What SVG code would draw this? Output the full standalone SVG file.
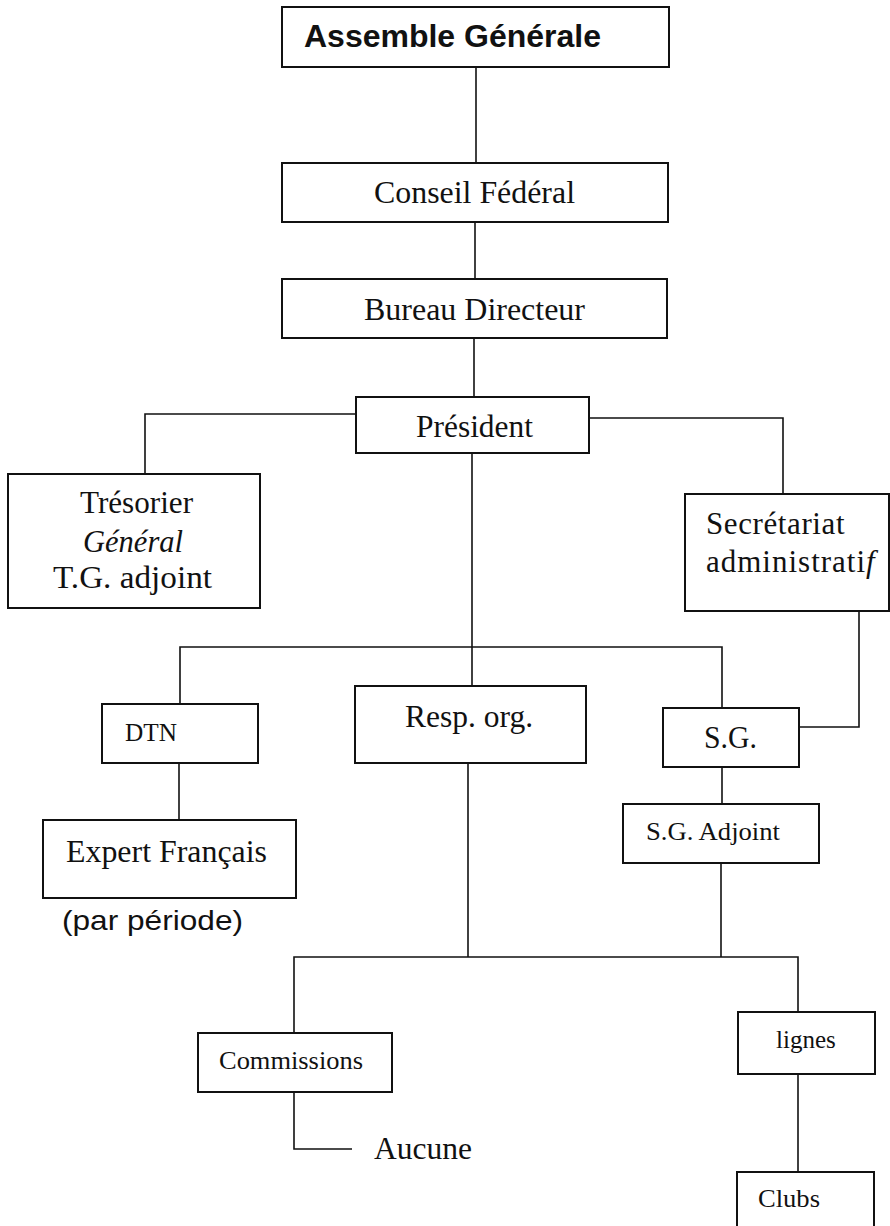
<svg xmlns="http://www.w3.org/2000/svg" width="890" height="1226" viewBox="0 0 890 1226">
<style>
.box{fill:#fff;stroke:#111;stroke-width:2}
.con{fill:none;stroke:#111;stroke-width:1.6}
.t{font-family:"Liberation Serif","Times New Roman",serif;font-size:31px;fill:#111}
.s{font-family:"Liberation Serif","Times New Roman",serif;font-size:25px;fill:#111}
.sans{font-family:"Liberation Sans",Arial,sans-serif;fill:#111}
</style>
<rect width="890" height="1226" fill="#fff"/>
<g id="connectors">
<path class="con" d="M476 67V163"/>
<path class="con" d="M475 222V279"/>
<path class="con" d="M474 338V397"/>
<path class="con" d="M356 414H145V474"/>
<path class="con" d="M589 418H783V494"/>
<path class="con" d="M472 453V686"/>
<path class="con" d="M180 704V647H722V708"/>
<path class="con" d="M859 611V727H800"/>
<path class="con" d="M179 763V820"/>
<path class="con" d="M722 767V804"/>
<path class="con" d="M721 863V957"/>
<path class="con" d="M468 763V957"/>
<path class="con" d="M294 1033V957H798V1012"/>
<path class="con" d="M294 1092V1149H352"/>
<path class="con" d="M798 1074V1172"/>
</g>
<g id="assemblee">
<rect class="box" x="282" y="7" width="387" height="60"/>
<text class="sans" x="304" y="47" font-size="32" font-weight="bold" textLength="297" lengthAdjust="spacingAndGlyphs">Assemble Générale</text>
</g>
<g id="conseil">
<rect class="box" x="282" y="163" width="386" height="59"/>
<text class="t" x="374" y="203" textLength="201" lengthAdjust="spacingAndGlyphs">Conseil Fédéral</text>
</g>
<g id="bureau">
<rect class="box" x="282" y="279" width="385" height="59"/>
<text class="t" x="364" y="320" textLength="221" lengthAdjust="spacingAndGlyphs">Bureau Directeur</text>
</g>
<g id="president">
<rect class="box" x="356" y="397" width="233" height="56"/>
<text class="t" x="416" y="437" textLength="117" lengthAdjust="spacingAndGlyphs">Président</text>
</g>
<g id="tresorier">
<rect class="box" x="8" y="474" width="252" height="134"/>
<text class="t" x="80" y="513" textLength="113" lengthAdjust="spacingAndGlyphs">Trésorier</text>
<text class="t" x="83" y="552" font-style="italic" textLength="100" lengthAdjust="spacingAndGlyphs">Général</text>
<text class="t" x="53" y="588" textLength="159" lengthAdjust="spacingAndGlyphs">T.G. adjoint</text>
</g>
<g id="secretariat">
<rect class="box" x="685" y="494" width="204" height="117"/>
<text class="t" x="706" y="534" letter-spacing="0.6">Secrétariat</text>
<text class="t" x="706" y="572" letter-spacing="1">administrati<tspan font-style="italic">f</tspan></text>
</g>
<g id="dtn">
<rect class="box" x="102" y="704" width="156" height="59"/>
<text class="s" x="125" y="741" font-size="22" textLength="52" lengthAdjust="spacingAndGlyphs">DTN</text>
</g>
<g id="resp-org">
<rect class="box" x="355" y="686" width="231" height="77"/>
<text class="t" x="405" y="727" textLength="128" lengthAdjust="spacingAndGlyphs">Resp. org.</text>
</g>
<g id="sg">
<rect class="box" x="663" y="708" width="136" height="59"/>
<text class="t" x="704" y="748" textLength="53" lengthAdjust="spacingAndGlyphs">S.G.</text>
</g>
<g id="expert">
<rect class="box" x="43" y="820" width="253" height="78"/>
<text class="t" x="66" y="862" textLength="201" lengthAdjust="spacingAndGlyphs">Expert Français</text>
</g>
<g id="par-periode">
<text class="sans" x="62" y="930" font-size="28" textLength="181" lengthAdjust="spacingAndGlyphs">(par période)</text>
</g>
<g id="sg-adjoint">
<rect class="box" x="623" y="804" width="196" height="59"/>
<text class="s" x="646" y="840" textLength="134" lengthAdjust="spacingAndGlyphs">S.G. Adjoint</text>
</g>
<g id="commissions">
<rect class="box" x="198" y="1033" width="194" height="59"/>
<text class="s" x="219" y="1069" textLength="144" lengthAdjust="spacingAndGlyphs">Commissions</text>
</g>
<g id="aucune">
<text class="t" x="374" y="1159" font-size="29" textLength="98" lengthAdjust="spacingAndGlyphs">Aucune</text>
</g>
<g id="lignes">
<rect class="box" x="738" y="1012" width="137" height="62"/>
<text class="s" x="776" y="1048">lignes</text>
</g>
<g id="clubs">
<rect class="box" x="737" y="1172" width="137" height="58"/>
<text class="s" x="758" y="1207" textLength="62" lengthAdjust="spacingAndGlyphs">Clubs</text>
</g>
</svg>
